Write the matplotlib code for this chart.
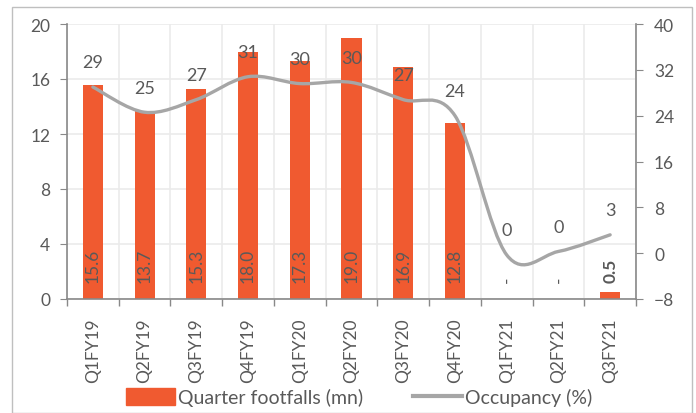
import numpy as np
import matplotlib
matplotlib.use("Agg")
import matplotlib.pyplot as plt
from matplotlib.patches import Rectangle
from matplotlib.path import Path
from matplotlib.patches import PathPatch
from matplotlib.lines import Line2D

plt.rcParams['font.family'] = ['Lato', 'DejaVu Sans']

categories = ["Q1FY19", "Q2FY19", "Q3FY19", "Q4FY19", "Q1FY20", "Q2FY20",
              "Q3FY20", "Q4FY20", "Q1FY21", "Q2FY21", "Q3FY21"]
footfalls = [15.6, 13.7, 15.3, 18.0, 17.3, 19.0, 16.9, 12.8, 0.0, 0.0, 0.5]
footfall_labels = ["15.6", "13.7", "15.3", "18.0", "17.3", "19.0", "16.9", "12.8", "-", "-", "0.5"]
occupancy = [29, 25, 27, 31, 30, 30, 27, 24, 0, 0, 3]
occupancy_plot = [29.0, 24.6, 26.8, 30.8, 29.6, 29.8, 26.8, 24.0, -0.3, 0.3, 3.2]

BAR = "#F05A30"
LINE = "#A6A6A6"
TXT = "#595959"
AX = "#898989"
FS = 12.5

fig = plt.figure(figsize=(6.96, 4.14), dpi=100)
fig.patches.append(Rectangle((12/696, 0.0), 680/696, 1 - 8/414, transform=fig.transFigure,
                             fill=False, edgecolor="#BFBFBF", linewidth=1.0))
ax = fig.add_axes([67/696, 1 - 300/414, 569/696, 275/414])
x = np.arange(len(categories))
ax.bar(x, footfalls, width=0.39, color=BAR, zorder=2)
ax.set_xlim(-0.5, len(categories) - 0.5)
ax.set_ylim(0, 20)
ax.set_yticks(np.arange(0, 21, 4))
ax.set_xticks(x)
ax.set_xticklabels(categories, rotation=90, fontsize=FS, color=TXT)
ax.set_xticks(np.arange(-0.5, len(categories), 1), minor=True)
ax.tick_params(axis='x', which='major', length=0, pad=13)
ax.tick_params(axis='x', which='minor', length=5, color=AX, width=1)
ax.tick_params(axis='y', length=5, color=AX, labelsize=FS, labelcolor=TXT, pad=7)
ax.grid(True, axis='y', color="#EBEBEB", linewidth=1.2, zorder=0)
ax.grid(True, axis='x', which='minor', color="#EBEBEB", linewidth=1.2, zorder=0)
ax.set_axisbelow(True)
for s in ["top", "right"]:
    ax.spines[s].set_visible(False)
for s in ["left", "bottom"]:
    ax.spines[s].set_color(AX)
    ax.spines[s].set_linewidth(1.2)

for xi, v, lab in zip(x, footfalls, footfall_labels):
    bold = lab == "0.5"
    ax.annotate(lab, (xi, 0), xytext=(0, 12.5), textcoords="offset points",
                rotation=90, ha='center', va='bottom', fontsize=FS, color=TXT,
                fontweight='bold' if bold else 'normal', zorder=5)

ax2 = ax.twinx()
ax2.set_ylim(-8, 40)
ax2.set_yticks(np.arange(-8, 41, 8))
ax2.tick_params(axis='y', length=5, color=AX, labelsize=FS, labelcolor=TXT, pad=8)
for s in ["top", "left", "bottom"]:
    ax2.spines[s].set_visible(False)
ax2.spines["right"].set_color(AX)
ax2.spines["right"].set_linewidth(1.2)

# Excel-like smoothed line (Catmull-Rom Bezier)
P = np.column_stack([x, occupancy_plot]).astype(float)
verts = [tuple(P[0])]
codes = [Path.MOVETO]
n = len(P)
for i in range(n - 1):
    p0 = P[i - 1] if i > 0 else P[i]
    p1 = P[i]
    p2 = P[i + 1]
    p3 = P[i + 2] if i + 2 < n else P[i + 1]
    c1 = p1 + (p2 - p0) / 6.0
    c2 = p2 - (p3 - p1) / 6.0
    verts += [tuple(c1), tuple(c2), tuple(p2)]
    codes += [Path.CURVE4] * 3
ax2.add_patch(PathPatch(Path(verts, codes), fill=False, edgecolor=LINE, linewidth=2.4,
                        capstyle='round', zorder=3))

for xi, yv, lab in zip(x, occupancy_plot, occupancy):
    ax2.annotate(str(lab), (xi, yv), xytext=(0, 12), textcoords="offset points",
                 ha='center', va='bottom', fontsize=FS + 0.5, color=TXT)

handles = [Rectangle((0, 0), 1, 1, color=BAR),
           Line2D([0], [0], color=LINE, linewidth=3)]
fig.legend(handles, ["Quarter footfalls (mn)", "Occupancy (%)"], loc='center',
           bbox_to_anchor=(0.516, 1 - 398/414), ncol=2, frameon=False, fontsize=14,
           labelcolor=TXT, handlelength=2.5, handleheight=1.0, columnspacing=2.6,
           handletextpad=0.15)

fig.savefig("out.png", dpi=100)
